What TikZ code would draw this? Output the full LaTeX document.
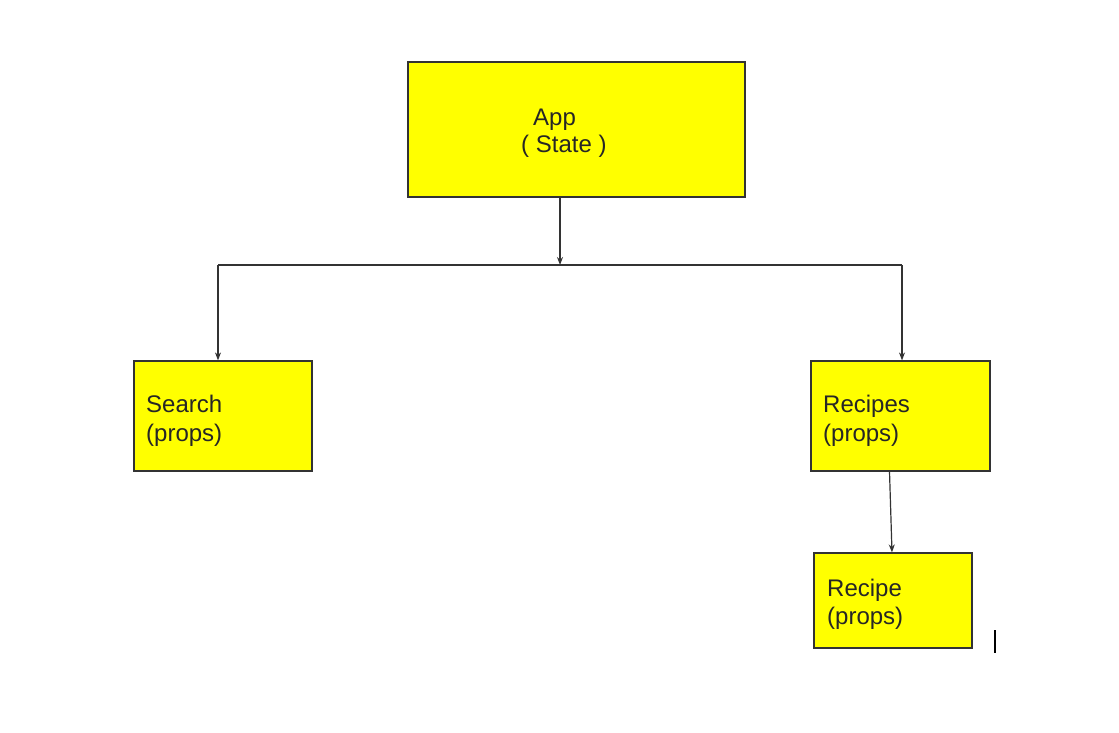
\documentclass[tikz,border=0pt]{standalone}
\usepackage{fontspec}
\setmainfont{Liberation Sans}
\usetikzlibrary{arrows.meta}
\definecolor{boxyellow}{HTML}{FFFF00}
\definecolor{edgegray}{HTML}{333333}
\tikzset{
  compbox/.style={draw=edgegray, line width=1.2pt, fill=boxyellow, inner sep=0pt},
  lbl/.style={anchor=base west, inner sep=0pt, font=\fontsize{24}{28}\selectfont, text=black!85},
  conn/.style={draw=edgegray, line width=1.2pt},
  arr/.style={conn, -{Stealth[length=8pt,width=6pt]}}
}
\begin{document}
\begin{tikzpicture}[x=1pt,y=-1pt]
\useasboundingbox (0,0) rectangle (1119,732);
% boxes
\node[compbox, minimum width=337pt, minimum height=135pt] (app) at (576.5,129.5) {};
\node[compbox, minimum width=178pt, minimum height=110pt] (search) at (223,416) {};
\node[compbox, minimum width=179pt, minimum height=110pt] (recipes) at (900.5,416) {};
\node[compbox, minimum width=158pt, minimum height=95pt] (recipe) at (893,600.5) {};
% labels
\node[lbl] (t1) at (533,125) {App};
\node[lbl] (t2) at (521,152) {( State )};
\node[lbl] (t3) at (146,412) {Search};
\node[lbl] (t4) at (146,441) {(props)};
\node[lbl] (t5) at (823,412) {Recipes};
\node[lbl] (t6) at (823,441) {(props)};
\node[lbl] (t7) at (827,596) {Recipe};
\node[lbl] (t8) at (827,624) {(props)};
% connectors
\coordinate (hub) at (560,265);
\coordinate (lft) at (218,265);
\coordinate (rgt) at (902,265);
\draw[arr] (app.south -| hub) -- (hub);
\draw[conn] (lft) -- (rgt);
\draw[arr] (lft) -- (lft |- search.north);
\draw[arr] (rgt) -- (rgt |- recipes.north);
\draw[arr] ([xshift=-11pt]recipes.south) -- ([xshift=-1pt]recipe.north);
% cursor bar
\coordinate (c1) at (995,630);
\coordinate (c2) at (995,653);
\draw[line width=2pt, black] (c1) -- (c2);
\end{tikzpicture}
\end{document}
